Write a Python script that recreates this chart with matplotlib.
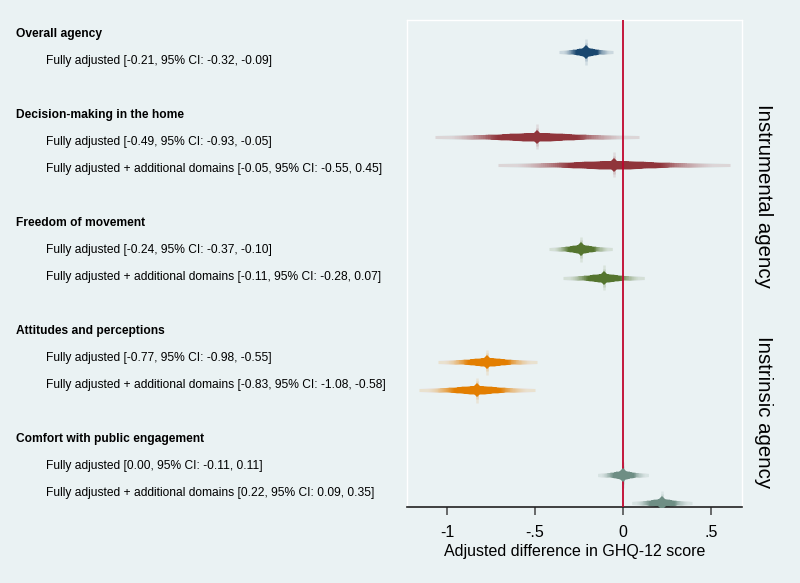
import numpy as np
import matplotlib
matplotlib.use("Agg")
import matplotlib.pyplot as plt
from matplotlib.colors import to_rgb

plt.rcParams['font.family'] = ['Liberation Sans', 'DejaVu Sans']

# ---------------- data ----------------
groups = ["Overall agency", "Decision-making in the home", "Freedom of movement",
          "Attitudes and perceptions", "Comfort with public engagement"]
models = ["Fully adjusted", "Fully adjusted + additional domains"]
group_models = [[0], [0, 1], [0, 1], [0, 1], [0, 1]]
estimates = [[-0.21], [-0.49, -0.05], [-0.24, -0.11], [-0.77, -0.83], [0.00, 0.22]]
ci_low = [[-0.32], [-0.93, -0.55], [-0.37, -0.28], [-0.98, -1.08], [-0.11, 0.09]]
ci_high = [[-0.09], [-0.05, 0.45], [-0.10, 0.07], [-0.55, -0.58], [0.11, 0.35]]
group_colors = ["#1a476f", "#90353b", "#55752f", "#e37e00", "#6e8e84"]
xticks = [-1, -0.5, 0, 0.5]
xticklabels = ["-1", "-.5", "0", ".5"]
xlabel = "Adjusted difference in GHQ-12 score"
side_labels = ["Instrumental agency", "Instrinsic agency"]

BG = "#eaf2f3"
W, H = 800, 583
fig = plt.figure(figsize=(W / 100, H / 100), dpi=100, facecolor=BG)

L, R, T, B = 407, 742, 20, 507
ax = fig.add_axes([L / W, 1 - B / H, (R - L) / W, (B - T) / H], facecolor=BG)

px_per_unit = 176.0
x0_px = 623
ax.set_xlim((L - x0_px) / px_per_unit, (R - x0_px) / px_per_unit)
# marker rows: row r at pixel 23.8 + 28.2*r
ax.set_ylim((B - 23.8) / 28.2, (T - 23.8) / 28.2)

bg_rgb = np.array(to_rgb(BG))


def blend(c, a):
    return tuple(bg_rgb * (1 - a) + np.array(to_rgb(c)) * a)


def tx(px):
    return px / W


def ty(py):
    return 1 - py / H


FS = 8.65
row = 0
for gi, g in enumerate(groups):
    header_row = row
    fig.text(tx(16), ty(34 + 27 * header_row), g, fontsize=FS, fontweight='bold',
             va='center', ha='left')
    for mi, m in enumerate(group_models[gi]):
        row += 1
        est = estimates[gi][mi]
        lo = ci_low[gi][mi]
        hi = ci_high[gi][mi]
        lab = f"{models[m]} [{est:.2f}, 95% CI: {lo:.2f}, {hi:.2f}]"
        fig.text(tx(46), ty(34 + 27 * row), lab, fontsize=FS, va='center', ha='left')

        col = group_colors[gi]
        sig = (hi - lo) / (2 * 1.96)
        ts = np.linspace(2.58, 0.02, 60)
        for t in ts:
            a = float(np.clip(np.exp(-t * t / 2) * 1.7, 0.15, 1.0))
            lw_px = 3.0 + 5.0 * np.exp(-t * t / 1.2)
            ax.plot([est - t * sig, est + t * sig], [row, row], color=blend(col, a),
                    lw=lw_px * 0.72, solid_capstyle='butt', zorder=2)
        # vertical glow
        for h, a in [(0.45, 0.12), (0.32, 0.25), (0.2, 0.45)]:
            ax.plot([est, est], [row - h, row + h], color=blend(col, a), lw=1.8,
                    solid_capstyle='butt', zorder=3)
        ax.plot([est], [row], marker='D', ms=7, color=col, mec=col, mew=0, zorder=5)
    row += 2

ax.axvline(0, color="#c0052d", lw=1.3, zorder=4)

for s in ['left', 'top', 'right']:
    ax.spines[s].set_color('white')
    ax.spines[s].set_linewidth(1.0)
ax.spines['bottom'].set_color('#222222')
ax.spines['bottom'].set_linewidth(1.2)

ax.set_xticks(xticks)
ax.set_xticklabels(xticklabels, fontsize=11.5)
ax.tick_params(axis='x', direction='out', length=5.8, width=1.1, color='#444444', pad=7.5)
ax.set_yticks([])
ax.set_xlabel(xlabel, fontsize=11.5, labelpad=2.5)

fig.text(tx(764), ty(196), side_labels[0], rotation=270, fontsize=14.7,
         va='center', ha='center')
fig.text(tx(764), ty(412), side_labels[1], rotation=270, fontsize=14.7,
         va='center', ha='center')

fig.savefig("out.png", dpi=100, facecolor=BG)
